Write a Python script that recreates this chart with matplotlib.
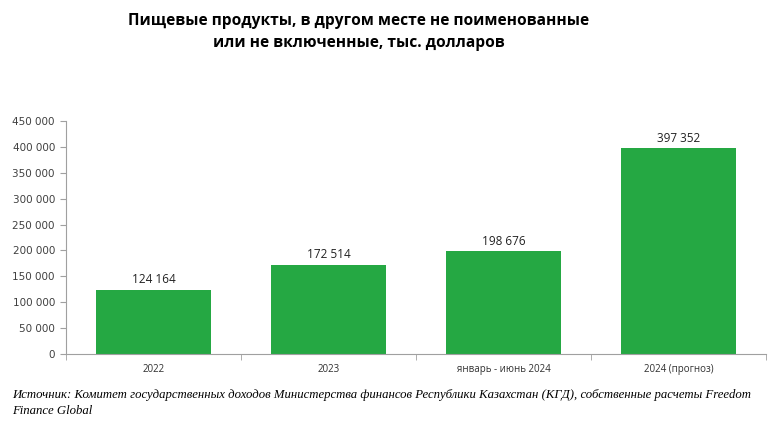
import matplotlib.pyplot as plt
import numpy as np

categories = ["2022", "2023", "январь - июнь 2024", "2024 (прогноз)"]
values = [124164, 172514, 198676, 397352]
yticks = [0, 50000, 100000, 150000, 200000, 250000, 300000, 350000, 400000, 450000]

title = "Пищевые продукты, в другом месте не поименованные\nили не включенные, тыс. долларов"
source = ("Источник: Комитет государственных доходов Министерства финансов Республики Казахстан (КГД), собственные расчеты Freedom\n"
          "Finance Global")

def fmt(v):
    return f"{v:,}".replace(",", " ")

fig = plt.figure(figsize=(7.8, 4.25), dpi=100)
ax = fig.add_axes([66/780, 1-354/425, 700/780, 233/425])

x = np.arange(len(categories))
ax.bar(x, values, width=0.66, color="#25a843", zorder=2)
for xi, v in zip(x, values):
    ax.text(xi, v + 7000, fmt(v), ha="center", va="bottom", fontsize=8.5,
            family="Open Sans", color="#222222")

ax.set_xlim(-0.5, len(categories) - 0.5)
ax.set_ylim(0, 450000)
ax.set_yticks(yticks)
ax.set_yticklabels([fmt(t) for t in yticks], fontsize=7.5, color="#404040")
ax.set_xticks(x)
ax.set_xticklabels(categories, fontsize=7, color="#303030", family="Open Sans")
ax.set_xticks(np.arange(len(categories) + 1) - 0.5, minor=True)
ax.tick_params(axis="x", which="major", length=0, pad=7)
ax.tick_params(axis="x", which="minor", length=4, color="#a0a0a0")
ax.tick_params(axis="y", length=4, color="#a0a0a0", pad=4)
for s in ["top", "right"]:
    ax.spines[s].set_visible(False)
for s in ["left", "bottom"]:
    ax.spines[s].set_color("#a0a0a0")

fig.text(359/780, 1-32/425, title, ha="center", va="center", fontsize=11.2,
         fontweight="bold", family="Open Sans", linespacing=1.55)
fig.text(12/780, 1-403/425, source, ha="left", va="center", fontsize=9.2,
         style="italic", family="Liberation Serif", linespacing=1.35)

fig.savefig("out.png", dpi=100)
